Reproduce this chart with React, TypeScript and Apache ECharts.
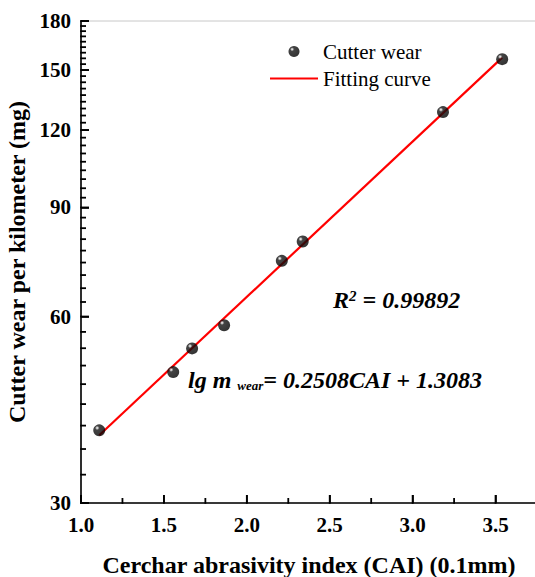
import React, { useEffect, useRef } from 'react';
import * as echarts from 'echarts';

const caiValues = [1.11, 1.556, 1.67, 1.863, 2.211, 2.337, 3.183, 3.54];
const wearValues = [39.3, 48.8, 53.3, 58.1, 73.8, 79.3, 128.3, 156.2];
// Fitting line end points
const fitCai = [1.11, 3.54];
const fitWear = [38.6, 157.1];
// Axis ticks
const yTickLabels = [30, 60, 90, 120, 150, 180];
const xTickLabels = [1.0, 1.5, 2.0, 2.5, 3.0, 3.5];
const xMinorTicks = [1.25, 1.75, 2.25, 2.75, 3.25];
const yMinorPerInterval = 8;

const FONT = '"Liberation Serif", "Times New Roman", Times, serif';
const lg = (v: number) => Math.log10(v);

export default function App() {
  const ref = useRef<HTMLDivElement>(null);
  useEffect(() => {
    if (!ref.current) return;
    const chart = echarts.init(ref.current, undefined, { renderer: 'svg' });

    const yMinor: number[] = [];
    for (let i = 0; i < yTickLabels.length - 1; i++) {
      const a = yTickLabels[i];
      const b = yTickLabels[i + 1];
      const step = (b - a) / (yMinorPerInterval + 1);
      for (let k = 1; k <= yMinorPerInterval; k++) yMinor.push(lg(a + k * step));
    }
    const xMin = 1;
    const yMin = lg(yTickLabels[0]);
    const yMax = lg(yTickLabels[yTickLabels.length - 1]);
    // tick marks: [x, y, direction, length] (0 = on y axis, 1 = on x axis)
    const tickData: number[][] = [
      ...yMinor.map((v) => [xMin, v, 0, 5]),
      ...yTickLabels.map((v) => [xMin, lg(v), 0, 8]),
      ...xMinorTicks.map((v) => [v, yMin, 1, 5]),
      ...xTickLabels.map((v) => [v, yMin, 1, 8]),
    ];

    const gridRect = { left: 81, top: 21, width: 456, height: 482 };
    const axisLineStyle = { color: '#000', width: 1.6 };
    const ball = new echarts.graphic.RadialGradient(0.33, 0.3, 0.75, [
      { offset: 0, color: '#ffffff' },
      { offset: 0.1, color: '#b0b0b0' },
      { offset: 0.24, color: '#151515' },
      { offset: 1, color: '#000000' },
    ]);

    const option: any = {
      animation: false,
      grid: {
        ...gridRect,
        show: true,
        borderColor: '#c8c8c8',
        borderWidth: 1,
        backgroundColor: 'transparent',
        containLabel: false,
        outerBoundsMode: 'none',
      },
      legend: {
        data: [
          { name: 'Cutter wear' },
          { name: 'Fitting curve', icon: 'path://M0,0 L48,0 L48,2.2 L0,2.2 Z' },
        ],
        orient: 'vertical',
        left: 270,
        top: 41,
        padding: 0,
        itemWidth: 48,
        itemHeight: 11,
        itemGap: 6,
        textStyle: { fontFamily: FONT, fontSize: 21, color: '#000', lineHeight: 21 },
      },
      xAxis: {
        type: 'value',
        min: xMin,
        max: 3.75,
        interval: 0.5,
        axisLine: { show: true, onZero: false, lineStyle: axisLineStyle },
        axisTick: { show: true, inside: true, length: 8, lineStyle: axisLineStyle, customValues: xTickLabels },
        axisLabel: {
          customValues: xTickLabels,
          formatter: (v: number) => v.toFixed(1),
          fontFamily: FONT,
          fontWeight: 'bold',
          fontSize: 21,
          color: '#000',
          margin: 11,
        },
        splitLine: { show: false },
        name: 'Cerchar abrasivity index (CAI) (0.1mm)',
        nameLocation: 'middle',
        nameGap: 50,
        nameTextStyle: { fontFamily: FONT, fontWeight: 'bold', fontSize: 24, color: '#000' },
      },
      yAxis: {
        type: 'value',
        min: yMin,
        max: yMax,
        axisLine: { show: true, onZero: false, lineStyle: axisLineStyle },
        axisTick: { show: true, inside: true, length: 8, lineStyle: axisLineStyle, customValues: yTickLabels.map(lg) },
        axisLabel: {
          customValues: yTickLabels.map(lg),
          formatter: (v: number) => String(Math.round(Math.pow(10, v))),
          fontFamily: FONT,
          fontWeight: 'bold',
          fontSize: 21,
          color: '#000',
          margin: 10,
        },
        splitLine: { show: false },
        name: 'Cutter wear per kilometer (mg)',
        nameLocation: 'middle',
        nameGap: 45,
        nameTextStyle: { fontFamily: FONT, fontWeight: 'bold', fontSize: 24, color: '#000' },
      },
      series: [
        {
          name: '__ticks',
          type: 'custom',
          coordinateSystem: 'cartesian2d',
          data: tickData,
          clip: false,
          silent: true,
          z: 5,
          renderItem: (params: any, api: any) => {
            const p = api.coord([api.value(0), api.value(1)]);
            const dir = api.value(2);
            const len = api.value(3);
            return {
              type: 'rect',
              shape:
                dir === 0
                  ? { x: p[0] - 0.8, y: p[1] - 0.9, width: len + 0.8, height: 1.8 }
                  : { x: p[0] - 0.9, y: p[1] - len, width: 1.8, height: len + 0.8 },
              style: { fill: '#000' },
            };
          },
        },
        {
          name: 'Fitting curve',
          type: 'line',
          data: fitCai.map((x, i) => [x, lg(fitWear[i])]),
          symbol: 'none',
          lineStyle: { color: '#ff0000', width: 2.2 },
          itemStyle: { color: '#ff0000' },
          z: 2,
        },
        {
          name: 'Cutter wear',
          type: 'scatter',
          data: caiValues.map((x, i) => [x, lg(wearValues[i])]),
          symbol: 'circle',
          symbolSize: 12,
          itemStyle: { color: ball },
          z: 3,
        },
      ],
      graphic: [
        {
          type: 'text',
          x: 333,
          y: 300,
          style: {
            text: '{a|R}{s|2}{a| = 0.99892}',
            verticalAlign: 'middle',
            rich: {
              a: { fontFamily: FONT, fontSize: 24, fontWeight: 'bold', fontStyle: 'italic', fill: '#000' },
              s: { fontFamily: FONT, fontSize: 15, fontWeight: 'bold', fontStyle: 'italic', fill: '#000', verticalAlign: 'top' },
            },
          },
        },
        {
          type: 'text',
          x: 188,
          y: 380,
          style: {
            text: '{a|lg m }{b|wear}{a|= 0.2508CAI + 1.3083}',
            verticalAlign: 'middle',
            rich: {
              a: { fontFamily: FONT, fontSize: 24, fontWeight: 'bold', fontStyle: 'italic', fill: '#000' },
              b: { fontFamily: FONT, fontSize: 13, fontWeight: 'bold', fontStyle: 'italic', fill: '#000', verticalAlign: 'bottom' },
            },
          },
        },
      ],
    };
    chart.setOption(option);
    return () => chart.dispose();
  }, []);
  return (
    <div
      ref={ref}
      style={{ position: 'fixed', left: 0, top: 0, width: 535, height: 577, background: '#fff' }}
    />
  );
}
